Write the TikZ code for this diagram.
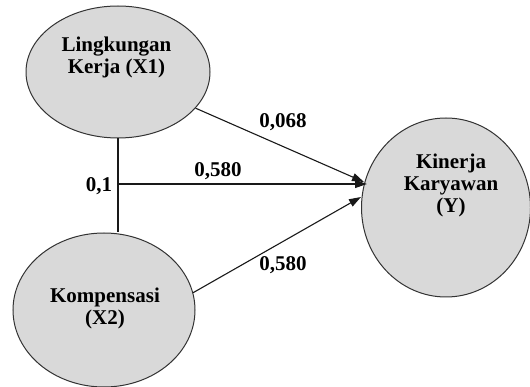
\documentclass[tikz,border=0pt]{standalone}
\usepackage{fontspec}
\setmainfont{Liberation Serif}
\usetikzlibrary{shapes.geometric,arrows.meta}
\begin{document}
\begin{tikzpicture}[x=1pt,y=-1pt,
  latent/.style={ellipse,draw=black!80,line width=1pt,fill=black!15,inner sep=0pt},
  lbl/.style={font=\fontsize{21}{22}\selectfont\bfseries,align=center,inner sep=0pt},
  coef/.style={font=\fontsize{21}{22}\selectfont\bfseries,inner sep=0pt},
  conn/.style={draw=black!90,line width=1.1pt},
  arr/.style={conn,-{Triangle[length=12pt,width=8pt]}}]
\useasboundingbox (0,0) rectangle (530,387);
\node[latent,minimum width=184pt,minimum height=132pt] (X1) at (118,72) {};
\node[latent,minimum width=182pt,minimum height=154pt] (X2) at (104,310) {};
\node[latent,minimum width=169pt,minimum height=179pt] (Y) at (446,207.5) {};
\node[lbl] (X1t) at (116.5,57) {Lingkungan\\Kerja (X1)};
\node[lbl] (X2t) at (105,308) {Kompensasi\\(X2)};
\node[lbl] (Yt) at (451,185) {Kinerja\\Karyawan\\(Y)};
\coordinate (v) at (118,184);
\coordinate (t1) at (364,182);
\coordinate (t2) at (367,184);
\coordinate (t3) at (361,197);
\draw[conn] (X1.south) -- (v) -- (v |- X2.north);
\draw[arr] (v) -- (t2);
\draw[arr] (X1.-25) -- (t1);
\draw[arr] (X2.11) -- (t3);
\node[coef] (c1) at (283,122) {0,068};
\node[coef] (c2) at (218,171) {0,580};
\node[coef] (c3) at (283,265) {0,580};
\node[coef] (c4) at (99,186) {0,1};
\end{tikzpicture}
\end{document}
